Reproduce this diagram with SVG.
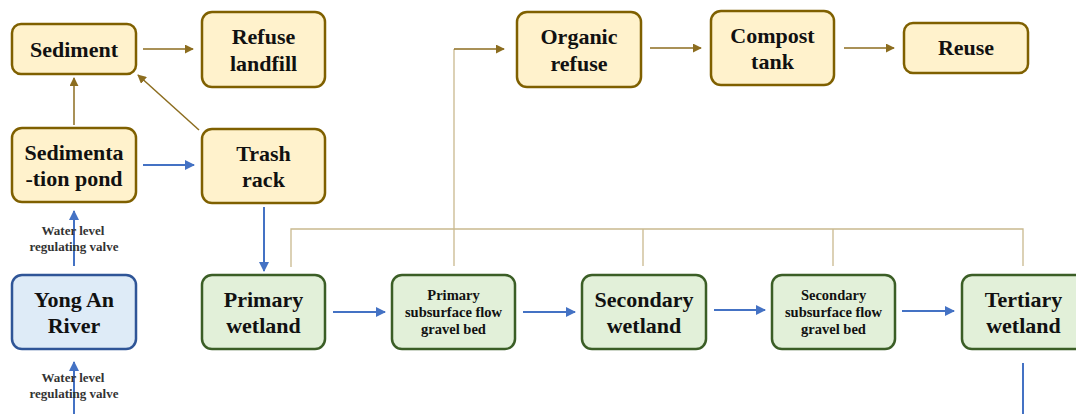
<svg xmlns="http://www.w3.org/2000/svg" width="1076" height="414" viewBox="0 0 1076 414">
<style>
.box{stroke-width:2.5}
.y{fill:#fff2cc;stroke:#7f6000}
.g{fill:#e2f0d9;stroke:#3b5e26}
.b{fill:#deebf7;stroke:#2f5597}
text{font-family:"Liberation Serif","Times New Roman",serif;font-weight:bold;fill:#111;text-anchor:middle}
.t{font-size:22px}
.s{font-size:14.5px}
.v{font-size:13px;fill:#333}
.ab{stroke:#4472c4;stroke-width:2;fill:none}
.an{stroke:#8c6d1f;stroke-width:1.5;fill:none}
.tl{stroke:#c9b98e;stroke-width:1.3;fill:none}
</style>
<defs>
<marker id="mb" viewBox="0 0 10 10" refX="9" refY="5" markerWidth="5" markerHeight="5" orient="auto" markerUnits="strokeWidth"><path d="M0,0 L10,5 L0,10 z" fill="#4472c4"/></marker>
<marker id="mn" viewBox="0 0 10 10" refX="9" refY="5" markerWidth="6" markerHeight="6" orient="auto" markerUnits="strokeWidth"><path d="M0,0 L10,5 L0,10 z" fill="#8c6d1f"/></marker>
</defs>
<rect width="1076" height="414" fill="#fff"/>
<g id="connectors">
<line class="an" x1="143" y1="49" x2="193" y2="49" marker-end="url(#mn)"/>
<line class="an" x1="74" y1="125" x2="74" y2="78" marker-end="url(#mn)"/>
<line class="an" x1="199" y1="130" x2="138" y2="75" marker-end="url(#mn)"/>
<line class="ab" x1="143" y1="165" x2="194" y2="165" marker-end="url(#mb)"/>
<line class="ab" x1="264" y1="207" x2="264" y2="271" marker-end="url(#mb)"/>
<line class="ab" x1="74" y1="266" x2="74" y2="211" marker-end="url(#mb)"/>
<line class="ab" x1="74" y1="414" x2="74" y2="362" marker-end="url(#mb)"/>
<line class="ab" x1="333" y1="312" x2="385" y2="312" marker-end="url(#mb)"/>
<line class="ab" x1="523" y1="312" x2="575" y2="312" marker-end="url(#mb)"/>
<line class="ab" x1="714" y1="310" x2="765" y2="310" marker-end="url(#mb)"/>
<line class="ab" x1="902" y1="311" x2="954" y2="311" marker-end="url(#mb)"/>
<line class="ab" x1="1023" y1="363" x2="1023" y2="414"/>
<polyline class="tl" points="291,267 291,229 1023,229 1023,266"/>
<line class="tl" x1="454" y1="266" x2="454" y2="49"/>
<line class="tl" x1="643" y1="229" x2="643" y2="266"/>
<line class="tl" x1="833" y1="229" x2="833" y2="266"/>
<line class="an" x1="454" y1="49" x2="504" y2="49" stroke="#a08a50" marker-end="url(#mn)"/>
<line class="an" x1="650" y1="48" x2="701" y2="48" marker-end="url(#mn)"/>
<line class="an" x1="844" y1="48" x2="894" y2="48" marker-end="url(#mn)"/>
</g>
<g id="sediment"><rect class="box y" x="12" y="24" width="124" height="50" rx="9"/><text class="t" x="74" y="57">Sediment</text></g>
<g id="refuse-landfill"><rect class="box y" x="202" y="12" width="123" height="75" rx="10"/><text class="t" x="263.5" y="44">Refuse</text><text class="t" x="263.5" y="71">landfill</text></g>
<g id="sedimentation-pond"><rect class="box y" x="12" y="128" width="124" height="74" rx="10"/><text class="t" x="74" y="160">Sedimenta</text><text class="t" x="74" y="186">-tion pond</text></g>
<g id="trash-rack"><rect class="box y" x="202" y="129" width="123" height="74" rx="10"/><text class="t" x="263.5" y="161">Trash</text><text class="t" x="263.5" y="187">rack</text></g>
<g id="organic-refuse"><rect class="box y" x="517" y="12" width="124" height="75" rx="10"/><text class="t" x="579" y="44">Organic</text><text class="t" x="579" y="71">refuse</text></g>
<g id="compost-tank"><rect class="box y" x="711" y="11" width="123" height="74" rx="10"/><text class="t" x="772.5" y="43">Compost</text><text class="t" x="772.5" y="69">tank</text></g>
<g id="reuse"><rect class="box y" x="904" y="23" width="124" height="50" rx="9"/><text class="t" x="966" y="55">Reuse</text></g>
<g id="yong-an-river"><rect class="box b" x="12" y="275" width="124" height="74" rx="10"/><text class="t" x="74" y="307">Yong An</text><text class="t" x="74" y="333">River</text></g>
<g id="primary-wetland"><rect class="box g" x="202" y="275" width="123" height="74" rx="10"/><text class="t" x="263.5" y="307">Primary</text><text class="t" x="263.5" y="333">wetland</text></g>
<g id="primary-gravel-bed"><rect class="box g" x="392" y="275" width="123" height="74" rx="10"/><text class="s" x="453.5" y="300">Primary</text><text class="s" x="453.5" y="317">subsurface flow</text><text class="s" x="453.5" y="334">gravel bed</text></g>
<g id="secondary-wetland"><rect class="box g" x="582" y="275" width="124" height="74" rx="10"/><text class="t" x="644" y="307">Secondary</text><text class="t" x="644" y="333">wetland</text></g>
<g id="secondary-gravel-bed"><rect class="box g" x="772" y="275" width="123" height="74" rx="10"/><text class="s" x="833.5" y="300">Secondary</text><text class="s" x="833.5" y="317">subsurface flow</text><text class="s" x="833.5" y="334">gravel bed</text></g>
<g id="tertiary-wetland"><rect class="box g" x="962" y="275" width="123" height="74" rx="10"/><text class="t" x="1023.5" y="307">Tertiary</text><text class="t" x="1023.5" y="333">wetland</text></g>
<g id="valve-labels">
<text class="v" x="73" y="235">Water level</text><text class="v" x="74" y="251">regulating valve</text>
<text class="v" x="73" y="382">Water level</text><text class="v" x="74" y="398">regulating valve</text>
</g>
</svg>
